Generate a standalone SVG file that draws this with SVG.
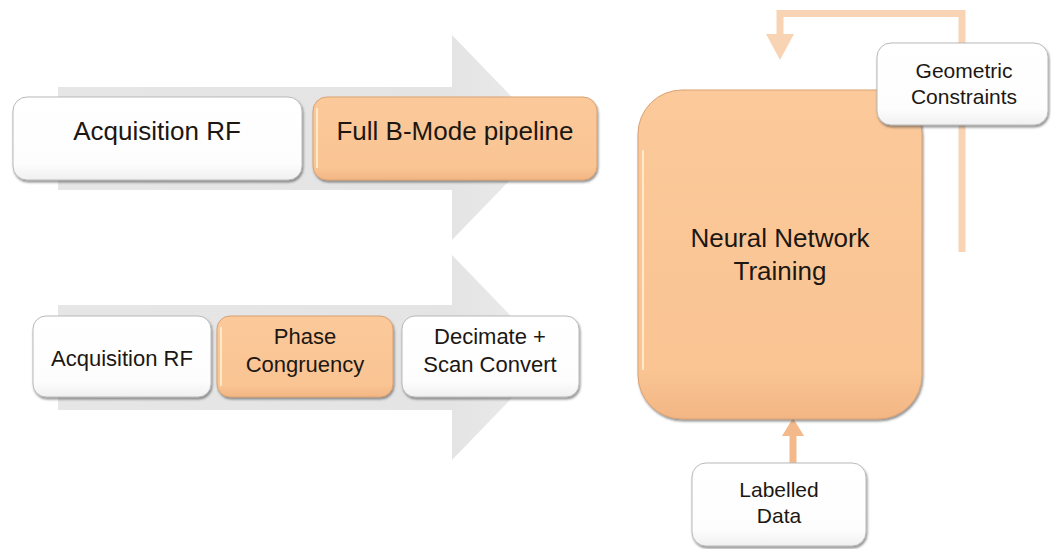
<svg xmlns="http://www.w3.org/2000/svg" width="1051" height="549" viewBox="0 0 1051 549">
  <defs>
    <style>
      .lbl { font-family: "Liberation Sans", Arial, sans-serif; fill: #1c1712; text-anchor: middle; }
      .big { font-size: 26px; }
      .mid { font-size: 22px; }
      .sml { font-size: 21px; }
      .white { fill: url(#gWhite); stroke: #b9b9b9; stroke-width: 1; filter: url(#shadow); }
      .orange { fill: url(#gOrange); stroke: #d9a274; stroke-width: 1; filter: url(#shadow); }
      .shine { fill: none; stroke: #fff3d6; stroke-width: 2; opacity: 0.8; }
      .band { fill: url(#gBand); }
      .feed { fill: none; stroke: #f8d3b4; stroke-width: 7; }
      .feedHead { fill: #f8d3b4; }
      .up { fill: none; stroke: #f4b98b; stroke-width: 7; }
      .upHead { fill: #f4b98b; }
    </style>
    <linearGradient id="gWhite" x1="0" y1="0" x2="0" y2="1">
      <stop offset="0" stop-color="#ffffff"/>
      <stop offset="0.8" stop-color="#fdfdfd"/>
      <stop offset="1" stop-color="#f0f0f0"/>
    </linearGradient>
    <linearGradient id="gOrange" x1="0" y1="0" x2="0" y2="1">
      <stop offset="0" stop-color="#fbc99a"/>
      <stop offset="0.85" stop-color="#fac493"/>
      <stop offset="1" stop-color="#f2b684"/>
    </linearGradient>
    <linearGradient id="gBand" x1="0" y1="0" x2="1" y2="0">
      <stop offset="0" stop-color="#e6e6e6"/>
      <stop offset="0.8" stop-color="#e4e4e4"/>
      <stop offset="1" stop-color="#ececec"/>
    </linearGradient>
    <filter id="shadow" x="-10%" y="-10%" width="120%" height="130%">
      <feDropShadow dx="1" dy="2" stdDeviation="1.2" flood-color="#3a3a3a" flood-opacity="0.55"/>
    </filter>
  </defs>

  <!-- background process arrows -->
  <g id="band-top">
    <polygon class="band" points="58,87 452,87 452,35 551,137.5 452,240 452,190 58,190"/>
  </g>
  <g id="band-bottom">
    <polygon class="band" points="58,305 452,305 452,255 551,357.5 452,460 452,410 58,410"/>
  </g>

  <!-- connectors -->
  <g id="connectors">
    <polyline class="feed" points="962,252 962,13.5 780,13.5 780,36"/>
    <polygon class="feedHead" points="766,34 794,34 780,60"/>
    <line class="up" x1="793" y1="463" x2="793" y2="432"/>
    <polygon class="upHead" points="782,436 804,436 793,418"/>
  </g>

  <!-- top row -->
  <g id="acq-rf-1">
    <rect class="white" x="13" y="97" width="289" height="83" rx="14"/>
    <text class="lbl big" x="157" y="140">Acquisition RF</text>
  </g>
  <g id="full-bmode">
    <rect class="orange" x="313" y="97" width="284" height="83" rx="14"/>
    <line class="shine" x1="317" y1="108" x2="317" y2="168"/>
    <text class="lbl big" x="455" y="140">Full B-Mode pipeline</text>
  </g>

  <!-- bottom row -->
  <g id="acq-rf-2">
    <rect class="white" x="33" y="316" width="178" height="81" rx="13"/>
    <text class="lbl mid" x="122" y="366">Acquisition RF</text>
  </g>
  <g id="phase-congruency">
    <rect class="orange" x="217" y="316" width="176" height="81" rx="13"/>
    <line class="shine" x1="221" y1="327" x2="221" y2="386"/>
    <text class="lbl mid" x="305" y="344">Phase</text>
    <text class="lbl mid" x="305" y="372">Congruency</text>
  </g>
  <g id="decimate">
    <rect class="white" x="402" y="316" width="177" height="81" rx="13"/>
    <text class="lbl mid" x="490" y="344">Decimate +</text>
    <text class="lbl mid" x="490" y="372">Scan Convert</text>
  </g>

  <!-- training block -->
  <g id="nn-training">
    <rect class="orange" x="638" y="90" width="284" height="329" rx="44"/>
    <path class="shine" d="M643,150 L643,370"/>
    <text class="lbl big" x="780" y="247">Neural Network</text>
    <text class="lbl big" x="780" y="280">Training</text>
  </g>
  <g id="geometric-constraints">
    <rect class="white" x="877" y="43" width="171" height="82" rx="14"/>
    <text class="lbl sml" x="964" y="78">Geometric</text>
    <text class="lbl sml" x="964" y="104">Constraints</text>
  </g>
  <g id="labelled-data">
    <rect class="white" x="692" y="463" width="174" height="83" rx="14"/>
    <text class="lbl sml" x="779" y="497">Labelled</text>
    <text class="lbl sml" x="779" y="523">Data</text>
  </g>
</svg>
